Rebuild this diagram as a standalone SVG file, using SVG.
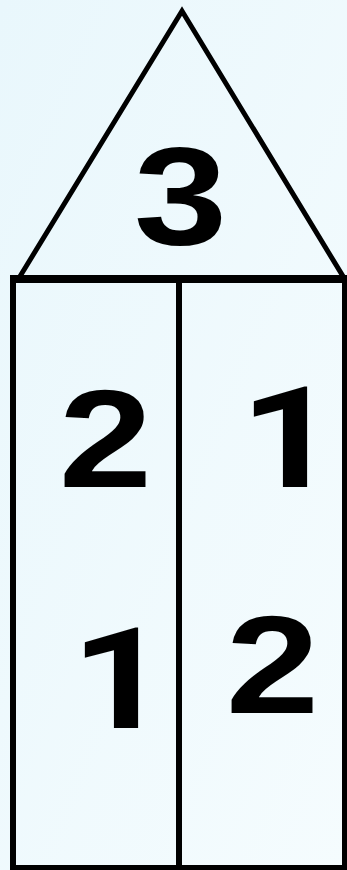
<svg xmlns="http://www.w3.org/2000/svg" width="347" height="870" viewBox="0 0 347 870">
  <defs>
    <linearGradient id="bg" x1="0" y1="0" x2="1" y2="1">
      <stop offset="0" stop-color="#E9F7FC"/>
      <stop offset="1" stop-color="#F5FCFE"/>
    </linearGradient>
  </defs>
  <style>
    .ln { fill: none; stroke: #000; stroke-linejoin: miter; }
    .num { font-family: "Liberation Sans", Arial, sans-serif; font-weight: bold; font-size: 140px; fill: #000; text-anchor: middle; }
    .one { font-family: Roboto, "Liberation Sans", sans-serif; font-weight: bold; font-size: 141px; fill: #000; text-anchor: middle; }
  </style>
  <rect x="0" y="0" width="347" height="870" fill="url(#bg)"/>
  <g id="roof">
    <polygon class="ln" stroke-width="5" points="19,278 182,11 344,278"/>
    <text class="num" transform="translate(180.5,244) scale(1.2,1)" x="0" y="0">3</text>
  </g>
  <g id="body">
    <path class="ln" stroke-width="6" d="M13,279 V868 H345 V279"/>
    <line class="ln" stroke-width="8" x1="10" y1="279" x2="347" y2="279"/>
    <line class="ln" stroke-width="6" x1="179" y1="275" x2="179" y2="868"/>
  </g>
  <g id="labels">
    <text class="num" transform="translate(105.5,487) scale(1.2,1)" x="0" y="0">2</text>
    <text class="one" transform="translate(289,487) scale(1.22,1)" x="0" y="0">1</text>
    <text class="one" transform="translate(120,728) scale(1.22,1)" x="0" y="0">1</text>
    <text class="num" transform="translate(272.5,713) scale(1.2,1)" x="0" y="0">2</text>
  </g>
</svg>
